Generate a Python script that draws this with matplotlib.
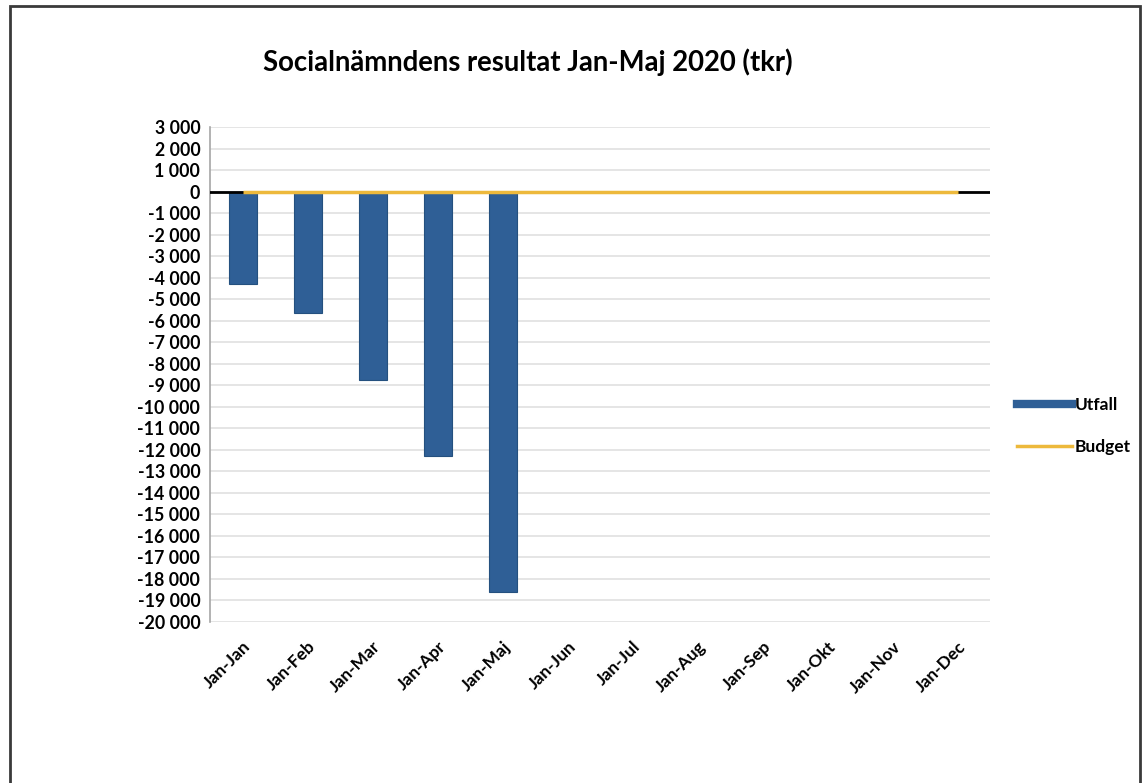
import numpy as np
import matplotlib.pyplot as plt
from matplotlib.patches import Rectangle
from matplotlib.lines import Line2D
from matplotlib.ticker import FuncFormatter

plt.rcParams['font.family'] = ['Lato', 'DejaVu Sans']

# Data (tkr)
periods = ['Jan-Jan', 'Jan-Feb', 'Jan-Mar', 'Jan-Apr', 'Jan-Maj', 'Jan-Jun',
           'Jan-Jul', 'Jan-Aug', 'Jan-Sep', 'Jan-Okt', 'Jan-Nov', 'Jan-Dec']
utfall = [-4280, -5620, -8750, -12280, -18600]
budget = [0] * 12

bar_color = '#2F5F96'
budget_color = '#EDB93C'


def fmt_thousands(v, pos):
    s = f"{int(round(v)):,}".replace(',', ' ')
    return s


fig = plt.figure(figsize=(11.44, 7.83), dpi=100)
ax = fig.add_axes([0.1836, 0.2056, 0.6818, 0.632])

x = np.arange(len(periods))
ax.bar(x[:len(utfall)], utfall, width=0.43, color=bar_color,
       edgecolor='#24507F', linewidth=0.8, zorder=3)
ax.axhline(0, color='black', linewidth=2, zorder=4)
ax.plot(x, budget, color=budget_color, linewidth=2.5, zorder=5,
        solid_capstyle='butt')

ax.set_xlim(-0.5, len(periods) - 0.5)
ax.set_ylim(-20000, 3000)
ax.set_yticks(np.arange(-20000, 3001, 1000))
ax.yaxis.set_major_formatter(FuncFormatter(fmt_thousands))
ax.grid(axis='y', color='#E3E3E3', linewidth=1.3, zorder=0)
ax.set_axisbelow(True)

ax.set_xticks(x)
ax.set_xticklabels(periods, rotation=45, ha='right', rotation_mode='anchor',
                   fontweight='bold', fontsize=12.5)
for lbl in ax.get_yticklabels():
    lbl.set_fontweight('bold')
    lbl.set_fontsize(12.8)
ax.tick_params(axis='both', length=0, pad=7)
ax.tick_params(axis='x', pad=12)

for side in ['top', 'right', 'bottom']:
    ax.spines[side].set_visible(False)
ax.spines['left'].set_color('#A6A6A6')
ax.spines['left'].set_linewidth(1.2)

fig.text(0.461, 0.921, 'Socialnämndens resultat Jan-Maj 2020 (tkr)',
         ha='center', va='center', fontsize=19.8, fontweight='bold')

handles = [Line2D([0], [0], color=bar_color, linewidth=6),
           Line2D([0], [0], color=budget_color, linewidth=2.5)]
fig.legend(handles, ['Utfall', 'Budget'], loc='center left',
           bbox_to_anchor=(0.875, 0.456), frameon=False,
           prop={'weight': 'bold', 'size': 12.5}, handlelength=3.2,
           handletextpad=0.15, labelspacing=1.5)

# outer frame of the pasted chart
fig.patches.append(Rectangle((10 / 1144, -0.05), 1130 / 1144, 1.05 - 6 / 783,
                             transform=fig.transFigure, fill=False,
                             edgecolor='#3A3A3A', linewidth=2))

fig.savefig('out.png', dpi=100)
